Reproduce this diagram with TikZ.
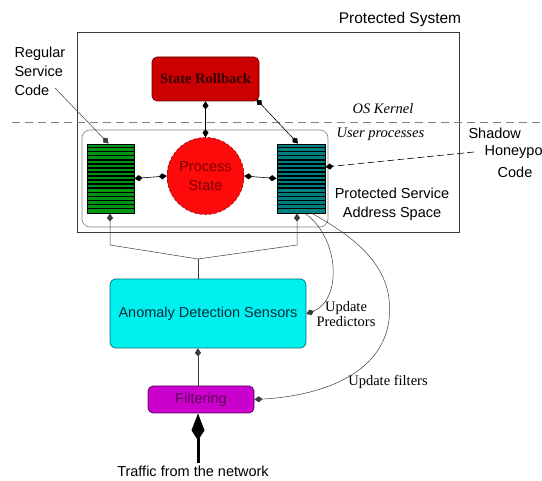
\documentclass[tikz,border=0pt]{standalone}
\usepackage{fontspec}
\setmainfont{Liberation Sans}
\newfontfamily\tms{Liberation Serif}
\usetikzlibrary{arrows.meta,calc}

\definecolor{rollfill}{RGB}{204,0,0}
\definecolor{rolldraw}{RGB}{110,0,0}
\definecolor{statefill}{RGB}{255,10,10}
\definecolor{statetext}{RGB}{120,0,0}
\definecolor{regfill}{RGB}{0,150,20}
\definecolor{shadowfill}{RGB}{0,128,128}
\definecolor{adsfill}{RGB}{0,240,240}
\definecolor{adsdraw}{RGB}{0,110,120}
\definecolor{filtfill}{RGB}{204,0,204}
\definecolor{filtdraw}{RGB}{90,0,90}
\definecolor{linegray}{RGB}{60,60,60}

\begin{document}
\begin{tikzpicture}[x=1pt,y=-1pt,
  sans/.style={font=\fontsize{14.5}{19}\selectfont},
  serif/.style={font=\fontsize{14.5}{15}\selectfont\tms},
  serifit/.style={font=\fontsize{14.5}{15}\selectfont\tms\itshape},
  box/.style={rounded corners=5pt, inner sep=0pt, line width=0.7pt},
  codeblock/.style={rectangle, draw=black, line width=0.9pt, inner sep=0pt,
                    minimum height=69pt},
  stripe/.style={black, line width=1.5pt},
  tipk/.style={-{Kite[length=8pt,width=6pt,inset=3.5pt]}},
  bothk/.style={{Kite[length=8pt,width=6pt,inset=3.5pt]}-{Kite[length=8pt,width=6pt,inset=3.5pt]}},
  conn/.style={draw=black, line width=0.6pt},
  thin/.style={draw=linegray, line width=0.5pt}]
\useasboundingbox (0,0) rectangle (542,481);

% protected system frame and kernel boundary
\draw[line width=0.6pt, draw=linegray] (77,32) rectangle (459,232);
\node[sans] (ptitle) at (400,19) {\fontsize{15.5}{19}\selectfont Protected System};
\draw[dashed, dash pattern=on 8pt off 5pt, line width=0.6pt, draw=gray] (12,122.5) -- (542,122.5);
\node[serifit] (kernel) at (383,109) {OS Kernel};

% user process area
\draw[rounded corners=8pt, line width=0.6pt, draw=gray] (82,130) rectangle (328,227);
\node[serifit, anchor=west] (userp) at (333,134) {User processes};

% components
\node[box, fill=rollfill, draw=rolldraw, minimum width=107pt, minimum height=44pt,
      font=\fontsize{14.5}{15}\selectfont\tms\bfseries, text={rgb,255:red,50;green,0;blue,0}]
      (rollback) at (205.5,79) {State Rollback};
\node[circle, fill=statefill, draw=statetext, densely dashed, line width=0.5pt,
      minimum size=77pt, inner sep=0pt, sans, text=statetext, align=center]
      (pstate) at (205.5,176) {Process\\State};
\node[codeblock, fill=regfill, minimum width=47pt] (reg) at (110.5,178.5) {};
\node[codeblock, fill=shadowfill, minimum width=48pt] (shadow) at (301,178.5) {};
\foreach \k in {1,...,16}{
  \draw[stripe] ([yshift=-4.06*\k pt]reg.north west) -- ([yshift=-4.06*\k pt]reg.north east);
  \draw[stripe] ([yshift=-4.06*\k pt]shadow.north west) -- ([yshift=-4.06*\k pt]shadow.north east);
}
\node[box, rounded corners=6pt, fill=adsfill, draw=adsdraw, minimum width=196pt,
      minimum height=69pt, sans, text={rgb,255:red,0;green,45;blue,55}]
      (ads) at (208,313.5) {Anomaly Detection Sensors};
\node[box, fill=filtfill, draw=filtdraw, minimum width=106pt, minimum height=27pt,
      sans, text=filtdraw] (filt) at (201,399.5) {Filtering};

% labels
\node[sans, anchor=west, align=left] (reglbl) at (11,71) {Regular\\Service\\Code};
\node[sans, anchor=west] (shlbl1) at (465,133) {Shadow};
\node[sans, anchor=west] (shlbl2) at (481,152.5) {Honeypo};
\node[sans] (shlbl3) at (515,172.5) {Code};
\node[sans, align=center] (pslbl) at (392,204) {Protected Service\\Address Space};
\node[serif, align=center] (uplbl) at (346,314) {Update\\Predictors};
\node[serif] (uflbl) at (388,382) {Update filters};
\node[sans] (traffic) at (193,471) {Traffic from the network};

% connectors inside the protected system
\draw[conn, bothk] (rollback.south) -- (pstate.north);
\draw[conn, bothk] ([xshift=-3pt,yshift=2pt]rollback.south east) -- ([xshift=-3pt]shadow.north);
\draw[conn, bothk] (reg.east) -- (pstate.west);
\draw[conn, bothk] (pstate.east) -- (shadow.east -| shadow.west);
\coordinate (regtail) at (55,88);
\draw[thin, tipk] (regtail) -- ([xshift=-2pt]reg.north);
\coordinate (shtail) at (474,152);
\draw[conn, dashed, dash pattern=on 7pt off 3pt, tipk] (shtail) -- ([yshift=11.5pt]shadow.east);

% sensors feed both code blocks
\coordinate (merge) at (198,259);
\coordinate (lbend) at (110,245);
\coordinate (rbend) at (297,245);
\draw[thin] (ads.north -| merge) -- (merge);
\draw[thin, tipk] (merge) -- (lbend) -- (lbend |- reg.south);
\draw[thin, tipk] (merge) -- (rbend) -- (rbend |- shadow.south);

% filtering to sensors, network traffic into filtering
\draw[thin, tipk] (filt.north -| merge) -- (ads.south -| merge);
\coordinate (src) at (198,463);
\draw[line width=3pt, -{Kite[length=27pt,width=13pt,inset=10pt]}] (src) -- (filt.south -| src);

% feedback curves
\draw[thin, tipk] ([xshift=4pt]shadow.south) .. controls (340,238) and (342,300) .. (ads.east |- 0,314);
\draw[thin, tipk] ([xshift=11pt]shadow.south) .. controls (360,240) and (395,270) .. (389,320)
   .. controls (382,375) and (320,396) .. (filt.east);
\end{tikzpicture}
\end{document}
